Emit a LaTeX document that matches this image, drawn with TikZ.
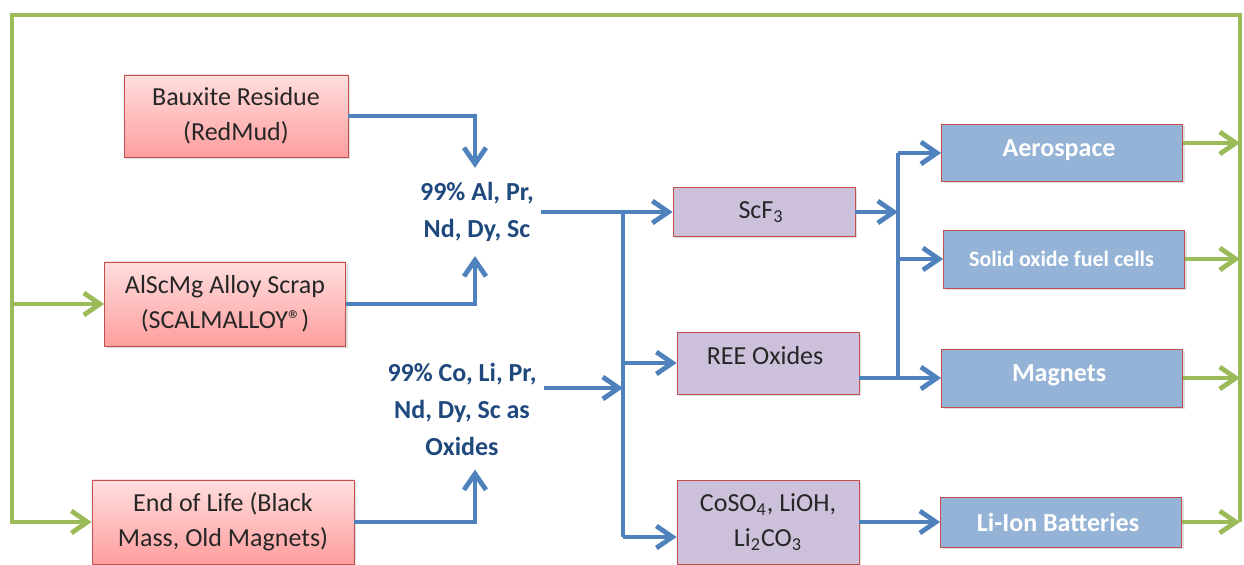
\documentclass[tikz,border=0pt]{standalone}
\usepackage{fontspec}
\setmainfont{Carlito}
\usetikzlibrary{arrows.meta, shadows}

\definecolor{boxedge}{RGB}{192,80,77}
\definecolor{srctop}{RGB}{255,222,222}
\definecolor{srcbot}{RGB}{255,158,158}
\definecolor{prodfill}{RGB}{204,192,218}
\definecolor{usefill}{RGB}{149,179,215}
\definecolor{flowblue}{RGB}{79,129,189}
\definecolor{loopgreen}{RGB}{155,187,89}
\definecolor{midblue}{RGB}{31,73,125}
\definecolor{darktext}{RGB}{38,38,38}

\begin{document}
\begin{tikzpicture}[
        x=0.5pt, y=-0.5pt,
        font=\fontsize{13}{17.5}\selectfont,
        >={Straight Barb[length=8pt,width=11pt]},
        srcblock/.style={
            draw=boxedge,
            top color=srctop,
            bottom color=srcbot,
            text=darktext,
            align=center,
            drop shadow={opacity=0.25, shadow xshift=1pt, shadow yshift=-1pt}
        },
        prodblock/.style={
            draw=boxedge,
            fill=prodfill,
            text=darktext,
            minimum width=91pt,
            align=center,
            drop shadow={opacity=0.25, shadow xshift=1pt, shadow yshift=-1pt}
        },
        useblock/.style={
            draw=boxedge,
            fill=usefill,
            text=white,
            font=\fontsize{13}{17.5}\selectfont\bfseries,
            minimum width=120.5pt,
            align=center,
            drop shadow={opacity=0.25, shadow xshift=1pt, shadow yshift=-1pt}
        },
        midtext/.style={
            font=\fontsize{13}{18.5}\selectfont\bfseries,
            text=midblue,
            align=center,
            inner ysep=7pt
        },
        barr/.style={->, draw=flowblue, line width=2.4pt},
        bline/.style={draw=flowblue, line width=2.4pt},
        garr/.style={->, draw=loopgreen, line width=2.4pt}
    ]

    \useasboundingbox (0,0) rectangle (1244,565);

    \node[srcblock, minimum width=112pt, minimum height=41pt] (bauxite) at (236,116) {
        Bauxite Residue\\(RedMud)
    };

    \node[srcblock, minimum width=120.5pt, minimum height=42pt] (alscmg) at (225,304) {
        AlScMg Alloy Scrap\\(SCALMALLOY®)
    };

    \node[srcblock, minimum width=131pt, minimum height=42pt] (eol) at (223,522) {
        End of Life (Black\\Mass, Old Magnets)
    };

    \node[midtext] (almix) at (477,212) {
        99\% Al, Pr,\\Nd, Dy, Sc
    };

    \node[midtext] (comix) at (462,409) {
        99\% Co, Li, Pr,\\Nd, Dy, Sc as\\Oxides
    };

    \node[prodblock, minimum height=24.5pt] (scf) at (764,212) {
        ScF\textsubscript{3}
    };

    \node[prodblock, minimum height=31pt, text depth=8pt] (ree) at (768,363) {
        REE Oxides
    };

    \node[prodblock, minimum height=42pt] (coso) at (768,522) {
        CoSO\textsubscript{4}, LiOH,\\Li\textsubscript{2}CO\textsubscript{3}
    };

    \node[useblock, minimum height=28.5pt, text depth=5pt] (aero) at (1062,153) {
        Aerospace
    };

    \node[useblock, minimum height=29pt, font=\fontsize{11}{14}\selectfont\bfseries] (sofc) at (1064,259) {
        Solid oxide fuel cells
    };

    \node[useblock, minimum height=29pt, text depth=5pt] (magnets) at (1062,378) {
        Magnets
    };

    \node[useblock, minimum height=25pt] (liion) at (1061,522) {
        Li-Ion Batteries
    };

    \coordinate (split) at (623,212);
    \coordinate (merge) at (623,388);
    \coordinate (fan)   at (898,212);
    \coordinate (gtl)   at (12,15);
    \coordinate (gtr)   at (1240,15);

    \draw[barr] (bauxite.east) -| ([xshift=-1pt]almix.north);
    \draw[barr] (alscmg.east)  -| ([xshift=-1pt]almix.south);
    \draw[barr] (eol.east)     -| ([xshift=6.5pt]comix.south);

    \draw[barr] (almix.east) -- (scf.west);
    \draw[bline] (split) -- (split |- 0,537);
    \draw[barr] (split |- ree.west) -- (ree.west);
    \draw[barr] (split |- 0,537) -- (coso.west |- 0,537);
    \draw[barr] (comix.east |- merge) -- (merge);

    \draw[barr] (scf.east) -- (fan);
    \draw[bline] (fan |- aero.west) -- (fan |- magnets.west);
    \draw[barr] (fan |- aero.west) -- (aero.west);
    \draw[barr] (fan |- sofc.west) -- (sofc.west);
    \draw[barr] (ree.east |- magnets.west) -- (magnets.west);
    \draw[barr] (coso.east) -- (liion.west);

    \draw[garr] ([yshift=5pt]aero.east) -- ([yshift=5pt]aero.east -| gtr);
    \draw[garr] (sofc.east) -- (sofc.east -| gtr);
    \draw[garr] (magnets.east) -- (magnets.east -| gtr);
    \draw[garr] (liion.east) -- (liion.east -| gtr);
    \draw[garr] (liion.east -| gtr) -- (gtr) -- (gtl) |- (eol.west);
    \draw[garr] (gtl |- alscmg.west) -- (alscmg.west);

\end{tikzpicture}
\end{document}
